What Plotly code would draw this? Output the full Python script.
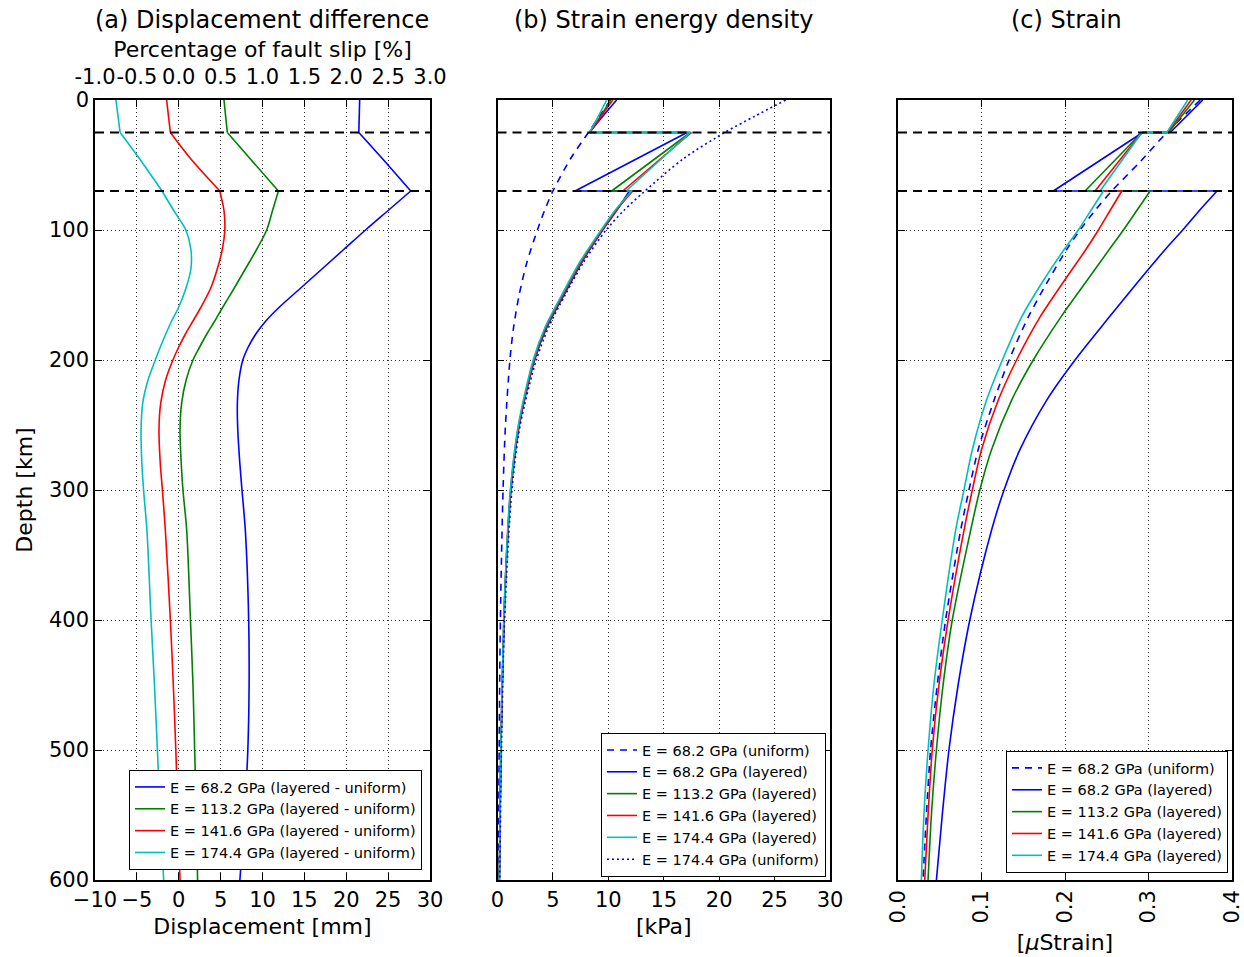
import plotly.graph_objects as go

# ---------------- data ----------------
# Panel (a): displacement difference [mm] vs depth [km]
disp_depth = [0, 25, 45, 70, 85, 100, 115, 130, 145, 160, 170, 180, 190, 200, 215, 233, 254, 280, 300, 331, 400, 450, 500, 550, 600]
disp_68 = [21.6, 21.5, 24.3, 27.7, 25.0, 22.3, 19.7, 17.1, 14.5, 11.9, 10.4, 9.2, 8.3, 7.65, 7.2, 7.0, 7.05, 7.3, 7.55, 7.95, 8.35, 8.4, 8.25, 7.85, 7.3]
disp_113 = [5.4, 5.8, 8.5, 11.9, 11.2, 10.5, 9.3, 7.95, 6.6, 5.2, 4.3, 3.35, 2.5, 1.7, 0.9, 0.35, 0.15, 0.3, 0.5, 0.95, 1.4, 1.7, 1.9, 2.1, 2.25]
disp_141 = [-1.45, -1.0, 1.4, 4.9, 5.4, 5.5, 5.2, 4.6, 3.8, 2.6, 1.7, 0.8, 0.0, -0.7, -1.55, -2.15, -2.36, -2.2, -1.95, -1.6, -1.0, -0.65, -0.35, -0.1, 0.15]
disp_174 = [-7.5, -7.0, -4.7, -2.0, -0.6, 0.85, 1.45, 1.45, 0.85, -0.05, -0.85, -1.55, -2.2, -2.8, -3.65, -4.3, -4.5, -4.4, -4.2, -3.8, -3.3, -2.9, -2.55, -2.2, -1.8]
disp_ticks = [-10, -5, 0, 5, 10, 15, 20, 25, 30]
pct_ticks = [-1.0, -0.5, 0.0, 0.5, 1.0, 1.5, 2.0, 2.5, 3.0]
pct_labels = ["-1.0", "-0.5", "0.0", "0.5", "1.0", "1.5", "2.0", "2.5", "3.0"]

# Panel (b): strain energy density [kPa]
sed_depth_layered = [0, 12.5, 25, 25, 70, 70, 85, 100, 125, 150, 175, 200, 250, 300, 350, 400, 500, 600]
sed_68_layered = [10.75, 9.5, 8.3, 17.1, 7.0, 11.9, 10.75, 9.5, 7.6, 6.0, 4.45, 3.35, 1.97, 1.22, 0.84, 0.6, 0.31, 0.17]
sed_113_layered = [10.2, 9.3, 8.3, 17.4, 10.3, 12.1, 10.7, 9.45, 7.55, 5.95, 4.4, 3.3, 1.95, 1.2, 0.82, 0.58, 0.3, 0.17]
sed_141_layered = [10.4, 9.35, 8.3, 17.5, 11.3, 12.2, 10.7, 9.45, 7.5, 5.9, 4.35, 3.28, 1.92, 1.18, 0.81, 0.57, 0.3, 0.16]
sed_174_layered = [9.85, 9.1, 8.3, 17.4, 11.6, 12.1, 10.6, 9.35, 7.4, 5.8, 4.28, 3.22, 1.88, 1.16, 0.8, 0.56, 0.29, 0.16]
sed_depth_uniform = [0, 12.5, 25, 45, 70, 85, 100, 125, 150, 175, 200, 250, 300, 400, 500, 600]
sed_68_uniform = [10.2, 9.2, 8.2, 6.6, 5.0, 4.25, 3.6, 2.65, 1.95, 1.45, 1.12, 0.72, 0.5, 0.26, 0.15, 0.09]
sed_174_uniform = [26.0, 23.2, 20.5, 16.8, 13.3, 11.4, 9.8, 7.75, 6.1, 4.6, 3.5, 2.05, 1.3, 0.64, 0.36, 0.2]
sed_ticks = [0, 5, 10, 15, 20, 25, 30]

# Panel (c): strain [microstrain]
str_depth_layered = [0, 25, 25, 70, 70, 85, 100, 115, 141, 167, 200, 231, 269, 300, 331, 400, 450, 500, 550, 600]
str_68_layered = [0.365, 0.326, 0.293, 0.186, 0.382, 0.361, 0.341, 0.320, 0.286, 0.253, 0.212, 0.178, 0.146, 0.127, 0.112, 0.086, 0.072, 0.061, 0.053, 0.046]
str_113_layered = [0.355, 0.324, 0.292, 0.224, 0.302, 0.286, 0.270, 0.253, 0.224, 0.195, 0.162, 0.136, 0.112, 0.098, 0.087, 0.065, 0.054, 0.046, 0.040, 0.036]
str_141_layered = [0.351, 0.323, 0.292, 0.236, 0.268, 0.254, 0.240, 0.225, 0.197, 0.170, 0.142, 0.120, 0.100, 0.089, 0.079, 0.060, 0.049, 0.041, 0.036, 0.032]
str_174_layered = [0.347, 0.322, 0.292, 0.242, 0.246, 0.231, 0.216, 0.199, 0.172, 0.148, 0.125, 0.106, 0.089, 0.079, 0.069, 0.053, 0.043, 0.036, 0.031, 0.028]
str_depth_uniform = [0, 25, 47.5, 70, 85, 100, 115, 141, 167, 200, 231, 269, 300, 331, 400, 450, 500, 550, 600]
str_68_uniform = [0.362, 0.322, 0.290, 0.256, 0.236, 0.218, 0.202, 0.178, 0.156, 0.133, 0.115, 0.096, 0.085, 0.075, 0.057, 0.047, 0.039, 0.034, 0.030]
str_ticks = [0.0, 0.1, 0.2, 0.3, 0.4]

depth_ticks = [0, 100, 200, 300, 400, 500, 600]
layer_boundaries = [25, 70]

# ---------------- style ----------------
W, H = 1244, 957
FONT = "DejaVu Sans"
BLUE, GREEN, RED, CYAN = "#0000ff", "#008000", "#ff0000", "#00bfbf"
LW = 1.6


def fx(px):
    return px / W


def fy(py):
    return 1 - py / H


dom_a = [fx(95), fx(430)]
dom_b = [fx(497.5), fx(830)]
dom_c = [fx(898), fx(1232)]
dom_y = [fy(880), fy(100)]

fig = go.Figure()
_gid = [0]


def split_at_layers(depth):
    """index ranges between layer-boundary points (kinks / jumps)"""
    brk = [0] + [i for i, d in enumerate(depth) if d in layer_boundaries and 0 < i < len(depth) - 1] + [len(depth) - 1]
    out = []
    for a, b in zip(brk[:-1], brk[1:]):
        if b > a:
            out.append((a, b))
    return out


def add(x, y, color, name, xa, ya, legend, dash="solid", split=True):
    _gid[0] += 1
    grp = f"g{_gid[0]}"
    ranges = split_at_layers(y) if split else [(0, len(y) - 1)]
    for k, (a, b) in enumerate(ranges):
        fig.add_trace(go.Scatter(
            x=x[a:b + 1], y=y[a:b + 1], mode="lines", name=name,
            line=dict(color=color, width=LW, dash=dash, shape="spline", smoothing=0.8),
            xaxis=xa, yaxis=ya, legend=legend, legendgroup=grp, showlegend=(k == 0),
        ))


# Panel a
add(disp_68, disp_depth, BLUE, "E = 68.2 GPa (layered - uniform)", "x", "y", "legend")
add(disp_113, disp_depth, GREEN, "E = 113.2 GPa (layered - uniform)", "x", "y", "legend")
add(disp_141, disp_depth, RED, "E = 141.6 GPa (layered - uniform)", "x", "y", "legend")
add(disp_174, disp_depth, CYAN, "E = 174.4 GPa (layered - uniform)", "x", "y", "legend")
# registers the top (percentage) axis
fig.add_trace(go.Scatter(x=pct_ticks, y=[None] * len(pct_ticks), mode="lines",
                         xaxis="x4", yaxis="y", showlegend=False, hoverinfo="skip"))

# Panel b
add(sed_68_uniform, sed_depth_uniform, BLUE, "E = 68.2 GPa (uniform)", "x2", "y2", "legend2", dash="7px,6px", split=False)
add(sed_68_layered, sed_depth_layered, BLUE, "E = 68.2 GPa (layered)", "x2", "y2", "legend2")
add(sed_113_layered, sed_depth_layered, GREEN, "E = 113.2 GPa (layered)", "x2", "y2", "legend2")
add(sed_141_layered, sed_depth_layered, RED, "E = 141.6 GPa (layered)", "x2", "y2", "legend2")
add(sed_174_layered, sed_depth_layered, CYAN, "E = 174.4 GPa (layered)", "x2", "y2", "legend2")
add(sed_174_uniform, sed_depth_uniform, BLUE, "E = 174.4 GPa (uniform)", "x2", "y2", "legend2", dash="2px,3px", split=False)

# Panel c
add(str_68_uniform, str_depth_uniform, BLUE, "E = 68.2 GPa (uniform)", "x3", "y3", "legend3", dash="7px,6px", split=False)
add(str_68_layered, str_depth_layered, BLUE, "E = 68.2 GPa (layered)", "x3", "y3", "legend3")
add(str_113_layered, str_depth_layered, GREEN, "E = 113.2 GPa (layered)", "x3", "y3", "legend3")
add(str_141_layered, str_depth_layered, RED, "E = 141.6 GPa (layered)", "x3", "y3", "legend3")
add(str_174_layered, str_depth_layered, CYAN, "E = 174.4 GPa (layered)", "x3", "y3", "legend3")

# layer boundaries
for xr, yr in [("x", "y"), ("x2", "y2"), ("x3", "y3")]:
    for d in layer_boundaries:
        fig.add_shape(type="line", xref=f"{xr} domain", yref=yr, x0=0, x1=1, y0=d, y1=d,
                      line=dict(color="black", width=1.8, dash="9px,6px"), layer="above")

tickfont = dict(family=FONT, size=21, color="black")
common_x = dict(showline=True, linecolor="black", linewidth=1.5, mirror="ticks",
                ticks="inside", ticklen=7, tickcolor="black", tickwidth=1,
                showgrid=True, gridcolor="#333", gridwidth=1, griddash="1px,3px",
                zeroline=False, tickfont=tickfont, automargin=False)
common_y = dict(common_x, range=[600, 0], tickvals=depth_ticks, autorange=False)
legend_style = dict(bgcolor="white", bordercolor="black", borderwidth=1,
                    font=dict(family=FONT, size=14.5), traceorder="normal")

fig.update_layout(
    width=W, height=H, margin=dict(l=0, r=0, t=0, b=0),
    paper_bgcolor="white", plot_bgcolor="white",
    font=dict(family=FONT, size=21, color="black"),
    xaxis=dict(common_x, domain=dom_a, anchor="y", range=[-10, 30], tickvals=disp_ticks,
               title=dict(text="Displacement [mm]", font=dict(family=FONT, size=22), standoff=8)),
    xaxis4=dict(overlaying="x", side="top", anchor="y", range=[-1, 3], tickvals=pct_ticks,
                ticktext=pct_labels, tickangle=0, showgrid=False, ticks="inside", ticklen=7,
                tickcolor="black", zeroline=False, tickfont=tickfont, automargin=False, showline=False,
                ticklabelstandoff=11,
                title=dict(text="Percentage of fault slip [%]", font=dict(family=FONT, size=22), standoff=1)),
    yaxis=dict(common_y, domain=dom_y, anchor="x",
               title=dict(text="Depth [km]", font=dict(family=FONT, size=22), standoff=10)),
    xaxis2=dict(common_x, domain=dom_b, anchor="y2", range=[0, 30], tickvals=sed_ticks,
                title=dict(text="[kPa]", font=dict(family=FONT, size=22), standoff=8)),
    yaxis2=dict(common_y, domain=dom_y, anchor="x2", showticklabels=False),
    xaxis3=dict(common_x, domain=dom_c, anchor="y3", range=[0, 0.4], tickvals=str_ticks,
                tickformat=".1f", tickangle=-90,
                title=dict(text="[<i>μ</i>Strain]", font=dict(family=FONT, size=22), standoff=12)),
    yaxis3=dict(common_y, domain=dom_y, anchor="x3", showticklabels=False),
    legend=dict(legend_style, x=fx(422), xanchor="right", y=fy(870), yanchor="bottom"),
    legend2=dict(legend_style, x=fx(826), xanchor="right", y=fy(877), yanchor="bottom"),
    legend3=dict(legend_style, x=fx(1228), xanchor="right", y=fy(873), yanchor="bottom"),
    showlegend=True,
)

titles = [("(a) Displacement difference", 262), ("(b) Strain energy density", 664), ("(c) Strain", 1066)]
for t, cx in titles:
    fig.add_annotation(text=t, x=fx(cx), y=fy(20), xref="paper", yref="paper",
                       showarrow=False, xanchor="center", yanchor="middle",
                       font=dict(family=FONT, size=24, color="black"))

fig.write_html("out.html")
